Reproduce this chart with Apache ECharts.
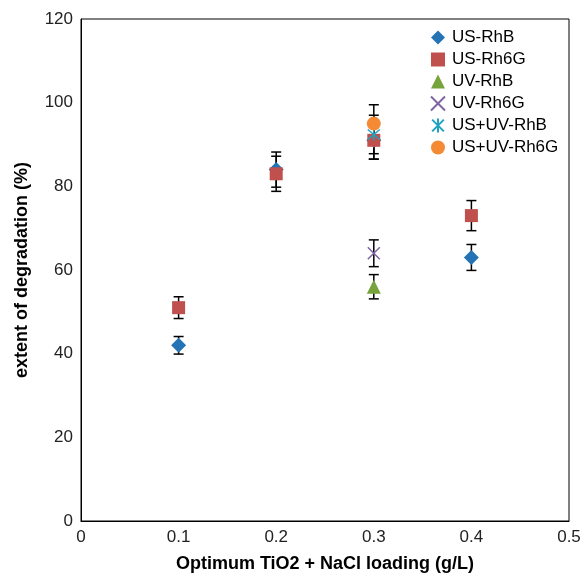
<!DOCTYPE html>
<html>
<head>
<meta charset="utf-8">
<script src="https://cdn.jsdelivr.net/npm/echarts@6/dist/echarts.min.js"></script>
<style>
  html, body { margin: 0; padding: 0; background: #fff; }
  #chart { width: 581px; height: 576px; }
</style>
</head>
<body>
<div id="chart"></div>
<script>
// loading (g/L) and extent of degradation (%) with error bar half-widths
const usRhBX = [0.1, 0.2, 0.3, 0.4];
const usRhBY = [42, 84, 91, 63];
const usRhBErr = [2.1, 4.2, 4.5, 3.1];

const usRh6GX = [0.1, 0.2, 0.3, 0.4];
const usRh6GY = [51, 83, 91, 73];
const usRh6GErr = [2.6, 4.2, 4.5, 3.6];

const uvRhBX = [0.3];
const uvRhBY = [56];
const uvRhBErr = [2.9];

const uvRh6GX = [0.3];
const uvRh6GY = [64];
const uvRh6GErr = [3.2];

const usUvRhBX = [0.3];
const usUvRhBY = [92.4];
const usUvRhBErr = [4.6];

const usUvRh6GX = [0.3];
const usUvRh6GY = [95];
const usUvRh6GErr = [4.5];

const FONT = 'Liberation Sans';

const groups = [
  { name: 'US-RhB', x: usRhBX, y: usRhBY, err: usRhBErr, color: '#2474B5', symbol: 'diamond', size: 15 },
  { name: 'US-Rh6G', x: usRh6GX, y: usRh6GY, err: usRh6GErr, color: '#C0504D', symbol: 'rect', size: 13 },
  { name: 'UV-RhB', x: uvRhBX, y: uvRhBY, err: uvRhBErr, color: '#76A33B', symbol: 'triangle', size: 14 },
  { name: 'UV-Rh6G', x: uvRh6GX, y: uvRh6GY, err: uvRh6GErr, color: '#8064A2', symbol: 'path://M0,0L10,10M10,0L0,10', size: 12, stroke: true },
  { name: 'US+UV-RhB', x: usUvRhBX, y: usUvRhBY, err: usUvRhBErr, color: '#1FA3BE', symbol: 'path://M0,0L10,10M10,0L0,10M5,-1L5,11', size: 12, stroke: true },
  { name: 'US+UV-Rh6G', x: usUvRh6GX, y: usUvRh6GY, err: usUvRh6GErr, color: '#F58A35', symbol: 'circle', size: 14 }
];

const series = [];
groups.forEach((g) => {
  const pts = g.x.map((x, i) => [x, g.y[i]]);
  const errPts = g.x.map((x, i) => [x, g.y[i] - g.err[i], g.y[i] + g.err[i]]);
  // error bars
  series.push({
    type: 'custom',
    name: g.name + ' err',
    data: errPts,
    z: 1,
    silent: true,
    renderItem: (params, api) => {
      const lo = api.coord([api.value(0), api.value(1)]);
      const hi = api.coord([api.value(0), api.value(2)]);
      const w = 5;
      const style = { stroke: '#000', lineWidth: 1.5 };
      return {
        type: 'group',
        children: [
          { type: 'line', shape: { x1: lo[0], y1: lo[1], x2: hi[0], y2: hi[1] }, style },
          { type: 'line', shape: { x1: lo[0] - w, y1: lo[1], x2: lo[0] + w, y2: lo[1] }, style },
          { type: 'line', shape: { x1: hi[0] - w, y1: hi[1], x2: hi[0] + w, y2: hi[1] }, style }
        ]
      };
    }
  });
  series.push({
    type: 'scatter',
    name: g.name,
    data: pts,
    z: 5,
    symbol: g.symbol,
    symbolSize: g.size,
    itemStyle: g.stroke
      ? { color: 'transparent', borderColor: g.color, borderWidth: 1.5, opacity: 1 }
      : { color: g.color, opacity: 1 }
  });
});

const chart = echarts.init(document.getElementById('chart'));
chart.setOption({
  animation: false,
  backgroundColor: '#fff',
  textStyle: { fontFamily: FONT },
  grid: {
    left: 81, right: 12, top: 19, bottom: 55,
    outerBoundsMode: 'none',
    containLabel: false,
    show: true, borderColor: '#000', borderWidth: 1
  },
  legend: {
    orient: 'vertical',
    left: 425,
    top: 24,
    itemGap: 5,
    itemWidth: 14,
    itemHeight: 14,
    data: groups.map((g) => g.name),
    textStyle: { fontFamily: FONT, fontSize: 17, color: '#000', padding: [0, 0, 0, 2] }
  },
  xAxis: {
    type: 'value',
    min: 0, max: 0.5, interval: 0.1,
    name: 'Optimum TiO2 + NaCl loading (g/L)',
    nameLocation: 'middle',
    nameGap: 34,
    nameTextStyle: { fontFamily: FONT, fontSize: 18, fontWeight: 'bold', color: '#000' },
    axisLine: { show: true, lineStyle: { color: '#000', width: 1 } },
    axisTick: { show: false },
    splitLine: { show: false },
    axisLabel: { fontFamily: FONT, fontSize: 17, color: '#222', margin: 8 }
  },
  yAxis: {
    type: 'value',
    min: 0, max: 120, interval: 20,
    name: 'extent of degradation (%)',
    nameLocation: 'middle',
    nameGap: 50,
    nameTextStyle: { fontFamily: FONT, fontSize: 18, fontWeight: 'bold', color: '#000' },
    axisLine: { show: true, lineStyle: { color: '#000', width: 1 } },
    axisTick: { show: false },
    splitLine: { show: false },
    axisLabel: { fontFamily: FONT, fontSize: 17, color: '#222', margin: 8 }
  },
  series: series
});
</script>
</body>
</html>
